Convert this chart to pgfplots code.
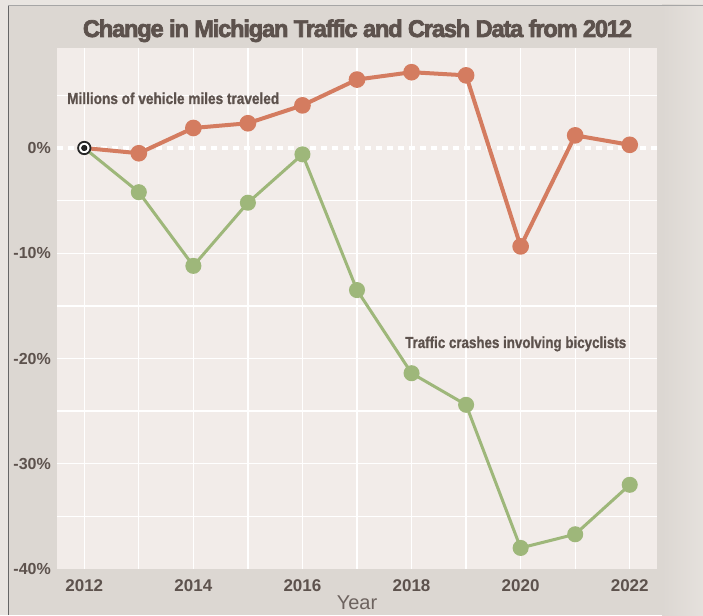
\documentclass[border=0pt]{standalone}
\usepackage{pgfplots}
\pgfplotsset{compat=1.18}
\usepackage{fontspec}
\setmainfont{Liberation Sans}
\newfontfamily\heavy{Liberation Sans}[BoldFeatures={FakeBold=3}, LetterSpace=-5]
\newfontfamily\semiheavy{Liberation Sans}[BoldFeatures={FakeBold=1}]

\definecolor{outerbg}{HTML}{E9E5E1}
\definecolor{framebg}{HTML}{DCD7D2}
\definecolor{plotbg}{HTML}{F2ECE9}
\definecolor{inkbrown}{HTML}{5D524D}
\definecolor{vmtorange}{RGB}{212,124,96}
\definecolor{bikegreen}{RGB}{158,183,122}

\begin{document}
\begin{tikzpicture}[x=1pt,y=1pt]
% page background and frame
\fill[outerbg] (0,0) rectangle (703,615);
\fill[framebg] (8,0) rectangle (703,610);
\shade[left color=framebg, right color=outerbg!70!framebg] (662,0) rectangle (703,610);
\draw[black!60, line width=0.8pt] (8,0) -- (8,610);
\draw[black!35, line width=0.8pt] (8,610) -- (703,610);

\begin{axis}[
    at={(57pt,46pt)}, anchor=south west,
    scale only axis,
    width=600pt, height=521pt,
    xmin=2011.5, xmax=2022.5,
    ymin=-40, ymax=9.5,
    axis background/.style={fill=plotbg},
    axis line style={draw=none},
    major tick length=0pt, minor tick length=0pt,
    xtick={2012,2014,...,2022},
    xticklabels={2012,2014,2016,2018,2020,2022},
    minor xtick={2013,2015,...,2021},
    ytick={-40,-30,-20,-10,0},
    yticklabels={-40\%,-30\%,-20\%,-10\%,0\%},
    minor ytick={-35,-30,-25,-20,-15,-10,-5,5},
    xmajorgrids, xminorgrids, yminorgrids,
    grid style={white, line width=1.3pt},
    minor grid style={white, line width=1.3pt},
    xticklabel style={font=\fontsize{17}{17}\selectfont\bfseries, text=inkbrown, inner sep=0pt, anchor=north, yshift=-10pt},
    yticklabel style={font=\fontsize{16}{16}\selectfont\bfseries, text=inkbrown, inner sep=0pt, anchor=east, xshift=-6pt},
    clip=false,
]
\draw[white, line width=3.5pt, dash pattern=on 6pt off 5pt]
    (axis cs:2011.5,0) -- (axis cs:2022.5,0);

% Traffic crashes involving bicyclists
\addplot[bikegreen, line width=3pt, mark=*, mark size=6.5pt,
    mark options={fill=bikegreen, draw=none}, mark indices={2,...,11}]
coordinates {
(2012,0) (2013,-4.2) (2014,-11.2) (2015,-5.2) (2016,-0.6) (2017,-13.5)
(2018,-21.4) (2019,-24.4) (2020,-38.0) (2021,-36.7) (2022,-32.0)
};

% Millions of vehicle miles traveled
\addplot[vmtorange, line width=4pt, mark=*, mark size=6.3pt,
    mark options={fill=vmtorange, draw=none}, mark indices={2,...,11}]
coordinates {
(2012,0) (2013,-0.5) (2014,1.9) (2015,2.35) (2016,4.05) (2017,6.5)
(2018,7.2) (2019,6.9) (2020,-9.35) (2021,1.2) (2022,0.3)
};

% 2012 baseline marker
\addplot[only marks, mark=*, mark size=6.2pt,
    mark options={fill=white, draw=black!85, line width=1.8pt}]
coordinates {(2012,0)};
\addplot[only marks, mark=*, mark size=2.8pt,
    mark options={fill=black!85, draw=none}]
coordinates {(2012,0)};
\end{axis}

% title and labels
\node[anchor=base, inner sep=0pt, text=inkbrown] at (357.5,578)
    {\resizebox{549pt}{17.5pt}{\heavy\bfseries Change in Michigan Traffic and Crash Data from 2012}};
\node[anchor=base west, inner sep=0pt, text=inkbrown] at (67,511)
    {\resizebox{212pt}{11.5pt}{\semiheavy\bfseries Millions of vehicle miles traveled}};
\node[anchor=base west, inner sep=0pt, text=inkbrown] at (405,267)
    {\resizebox{221pt}{11.5pt}{\semiheavy\bfseries Traffic crashes involving bicyclists}};
\node[anchor=base, inner sep=0pt, text=inkbrown!90!white] at (357,6)
    {\fontsize{20}{20}\selectfont Year};

\pgfresetboundingbox
\useasboundingbox (0,0) rectangle (703,615);
\end{tikzpicture}
\end{document}
